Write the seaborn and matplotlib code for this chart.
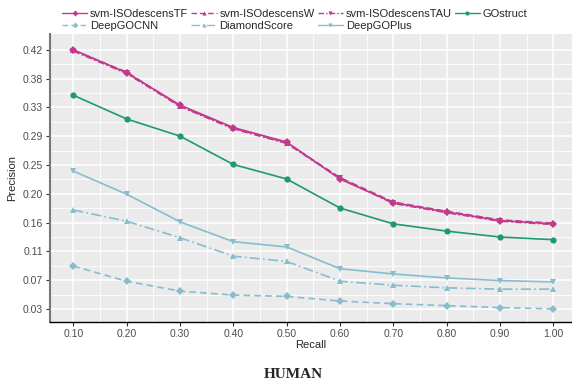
import matplotlib
matplotlib.use('Agg')
import matplotlib.pyplot as plt
import seaborn as sn
import pandas as pd
import numpy as np

recall = [0.1, 0.2, 0.3, 0.4, 0.5, 0.6, 0.7, 0.8, 0.9, 1.0]

methods = ['svm-ISOdescensTF', 'svm-ISOdescensW', 'svm-ISOdescensTAU', 'GOstruct',
           'DeepGOCNN', 'DiamondScore', 'DeepGOPlus']

svm_tf = [0.420, 0.385, 0.336, 0.302, 0.280, 0.224, 0.188, 0.174, 0.161, 0.156]
svm_w = [0.419, 0.386, 0.335, 0.301, 0.279, 0.226, 0.189, 0.175, 0.162, 0.157]
svm_tau = [0.418, 0.384, 0.334, 0.300, 0.278, 0.225, 0.187, 0.173, 0.160, 0.155]
gostruct = [0.351, 0.315, 0.289, 0.246, 0.224, 0.180, 0.156, 0.145, 0.136, 0.132]
deepgocnn = [0.092, 0.069, 0.054, 0.048, 0.046, 0.039, 0.035, 0.032, 0.029, 0.027]
diamond = [0.177, 0.160, 0.135, 0.107, 0.099, 0.069, 0.063, 0.059, 0.057, 0.057]
deepgoplus = [0.236, 0.201, 0.159, 0.129, 0.121, 0.088, 0.080, 0.074, 0.070, 0.068]

series = [svm_tf, svm_w, svm_tau, gostruct, deepgocnn, diamond, deepgoplus]

magenta = '#C23A8C'
green = '#1F9A6E'
lblue = '#86BDCF'
palette = dict(zip(methods, [magenta, magenta, magenta, green, lblue, lblue, lblue]))
markers = dict(zip(methods, ['D', '^', 'v', 'o', 'D', '^', 'v']))
dashes = dict(zip(methods, ['', (4, 2), (4, 1.5, 1, 1.5), '', (4, 2.5), (6, 2, 1, 2), '']))

df = pd.DataFrame({'Recall': np.tile(recall, len(methods)),
                   'Precision': np.concatenate(series),
                   'method': np.repeat(methods, len(recall))})

sn.set_style('darkgrid', {'axes.facecolor': '#EBEBEB', 'grid.color': 'white'})
plt.rcParams['font.family'] = ['Liberation Sans', 'DejaVu Sans']

fig = plt.figure(figsize=(5.72, 3.89), dpi=100)
ax = fig.add_axes([50 / 572, 1 - 322 / 389, 522 / 572, 288 / 389])

sn.lineplot(data=df, x='Recall', y='Precision', hue='method', style='method',
            hue_order=methods, style_order=methods, palette=palette,
            markers=markers, dashes=dashes, linewidth=1.2, markersize=4.5,
            markeredgewidth=0, ax=ax)
for ln in ax.lines:
    if ln.get_marker() == 'D':
        ln.set_markersize(3.8)

# y breaks like the original: 10 evenly spaced values between data min and max
ymin, ymax = df['Precision'].min(), df['Precision'].max()
yt = np.linspace(ymin, ymax, 10)
ax.set_yticks(yt)
ax.set_yticklabels(['%.2f' % v for v in yt])
ax.set_yticks((yt[:-1] + yt[1:]) / 2, minor=True)
ax.set_xticks(recall)
ax.set_xticklabels(['%.2f' % v for v in recall])
ax.set_xticks(np.array(recall[:-1]) + 0.05, minor=True)
ax.set_xlim(0.0563, 1.035)
ax.set_ylim(0.0072, 0.4438)

ax.grid(which='major', color='white', linewidth=1.1)
ax.grid(which='minor', color='white', linewidth=0.6)
ax.tick_params(axis='both', which='major', labelsize=7.5, labelcolor='#4D4D4D',
               length=3, width=0.8, color='#333333', pad=2, left=True, bottom=True)
ax.tick_params(axis='both', which='minor', length=0)

for s in ['top', 'right']:
    ax.spines[s].set_visible(False)
ax.spines['left'].set_visible(True)
ax.spines['left'].set_color('#777777')
ax.spines['left'].set_linewidth(1.5)
ax.spines['bottom'].set_visible(True)
ax.spines['bottom'].set_color('black')
ax.spines['bottom'].set_linewidth(1.0)

ax.set_xlabel('Recall', fontsize=8, labelpad=0.5)
ax.set_ylabel('Precision', fontsize=8, labelpad=4)

# ggplot-style legend filled by rows
h, l = ax.get_legend_handles_labels()
order = [0, 4, 1, 5, 2, 6, 3]
leg = ax.legend([h[i] for i in order], [l[i] for i in order], ncol=4, frameon=False,
                loc='lower left', bbox_to_anchor=(0.012, 0.99), fontsize=8,
                handlelength=2.3, columnspacing=0.25, handletextpad=0.25,
                labelspacing=0.2, borderaxespad=0.1)
for lh in leg.get_lines():
    lh.set_markersize(3)
    lh.set_linewidth(1.0)

fig.text(0.512, 1 - 374 / 389, 'HUMAN', ha='center', va='center', fontsize=11,
         fontweight='bold', family='Liberation Serif')

plt.savefig('out.png', dpi=100)
